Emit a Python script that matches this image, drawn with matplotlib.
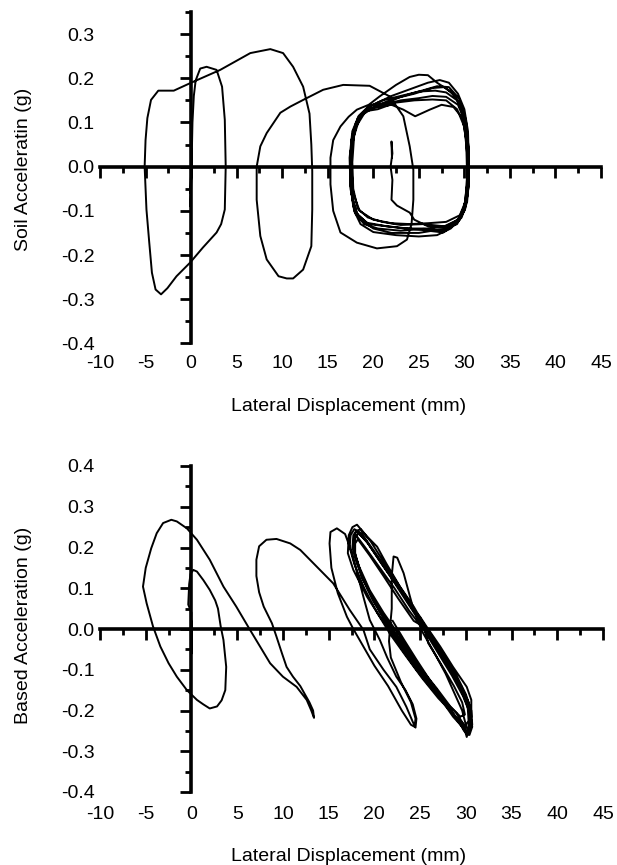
import matplotlib
matplotlib.use('Agg')
import matplotlib.pyplot as plt
from matplotlib.ticker import MultipleLocator

plt.rcParams['font.family'] = ['Liberation Sans', 'DejaVu Sans']

# ---------------- tick values / labels ----------------
x_ticks = [-10, -5, 0, 5, 10, 15, 20, 25, 30, 35, 40, 45]
x_tick_labels = ['-10', '-5', '0', '5', '10', '15', '20', '25', '30', '35', '40', '45']
top_y_ticks = [0.3, 0.2, 0.1, 0.0, -0.1, -0.2, -0.3, -0.4]
top_y_labels = ['0.3', '0.2', '0.1', '0.0', '-0.1', '-0.2', '-0.3', '-0.4']
bot_y_ticks = [0.4, 0.3, 0.2, 0.1, 0.0, -0.1, -0.2, -0.3, -0.4]
bot_y_labels = ['0.4', '0.3', '0.2', '0.1', '0.0', '-0.1', '-0.2', '-0.3', '-0.4']

x_label = 'Lateral Displacement (mm)'
top_ylabel = 'Soil Acceleratin (g)'
bot_ylabel = 'Based Acceleration (g)'

# ---------------- top panel: soil acceleration trace (mm, g) ----------------
top_start = [(0.0, -0.02), (0.1, 0.03), (-0.1, -0.06), (0.1, 0.02), (-0.1, -0.09), (0.0, -0.05),
             (0.1, 0.04), (0.0, -0.03), (0.1, 0.05)]
top_loop_d = [(0.15, 0.10), (0.3, 0.16), (0.5, 0.195), (1.0, 0.222), (1.7, 0.226), (2.8, 0.219),
              (3.4, 0.181), (3.7, 0.106), (3.8, 0.0), (3.7, -0.097), (3.3, -0.13), (2.8, -0.149),
              (1.3, -0.183), (-0.1, -0.217), (-1.6, -0.248), (-2.6, -0.275), (-3.3, -0.289)]
top_loop_a = [(-3.9, -0.278), (-4.3, -0.24), (-4.6, -0.17), (-4.9, -0.097), (-5.1, 0.0), (-5.0, 0.06),
              (-4.8, 0.11), (-4.4, 0.151), (-3.6, 0.172), (-1.9, 0.172), (-0.1, 0.189), (3.2, 0.219),
              (6.5, 0.257), (8.7, 0.266), (10.1, 0.257), (11.2, 0.226), (12.3, 0.181), (13.0, 0.12),
              (13.2, 0.05), (13.3, -0.01), (13.3, -0.097), (13.2, -0.18), (12.3, -0.233), (11.2, -0.253),
              (10.5, -0.253), (9.6, -0.248), (8.3, -0.21), (7.6, -0.157), (7.2, -0.075), (7.2, 0.0)]
top_loop_c = [(7.6, 0.046), (8.3, 0.076), (9.8, 0.122), (10.9, 0.136), (12.3, 0.151), (14.5, 0.174),
              (16.7, 0.185), (19.6, 0.183), (21.8, 0.159), (23.3, 0.114), (24.0, 0.046), (24.4, -0.007),
              (24.4, -0.075), (24.2, -0.13), (23.7, -0.165), (22.6, -0.18), (20.4, -0.185), (18.2, -0.172),
              (16.4, -0.149), (15.6, -0.1), (15.3, -0.04), (15.3, 0.02), (15.6, 0.06), (16.4, 0.091),
              (17.3, 0.113), (18.2, 0.129)]
top_c1 = [(19.5, 0.14), (20.7, 0.159), (22.5, 0.185), (24.0, 0.203), (25.0, 0.208), (26.0, 0.207),
          (27.0, 0.19), (28.5, 0.17), (29.6, 0.14), (30.2, 0.1), (30.4, 0.04), (30.4, -0.04),
          (30.1, -0.09), (29.5, -0.12), (28.0, -0.14), (25.0, -0.15), (22.0, -0.15), (20.0, -0.14),
          (18.6, -0.12), (17.8, -0.09), (17.5, -0.04), (17.5, 0.03), (17.7, 0.07), (18.3, 0.11), (19.2, 0.13)]
top_c2 = [(20.5, 0.145), (22.0, 0.16), (24.0, 0.175), (26.0, 0.19), (27.3, 0.196), (28.3, 0.19),
          (29.3, 0.165), (30.0, 0.13), (30.4, 0.08), (30.5, 0.0), (30.4, -0.06), (30.0, -0.1),
          (29.3, -0.125), (27.7, -0.149), (24.8, -0.142), (21.5, -0.135), (19.3, -0.127), (18.1, -0.104),
          (17.6, -0.06), (17.5, 0.0), (17.7, 0.06), (18.2, 0.1), (19.2, 0.13)]
top_c3 = [(20.5, 0.135), (22.0, 0.14), (23.3, 0.129), (24.6, 0.114), (26.2, 0.129), (27.5, 0.14),
          (28.8, 0.135), (29.8, 0.11), (30.2, 0.06), (30.3, -0.02), (30.1, -0.08), (29.5, -0.11),
          (28.0, -0.125), (26.0, -0.128), (24.0, -0.13), (22.0, -0.128), (20.0, -0.12), (18.5, -0.1),
          (17.8, -0.06), (17.6, 0.0), (17.7, 0.05), (18.1, 0.09), (19.0, 0.12)]
top_c4 = [(20.5, 0.14), (22.5, 0.155), (24.5, 0.165), (26.5, 0.178), (27.8, 0.18), (29.0, 0.16),
          (29.9, 0.12), (30.3, 0.06), (30.4, -0.01), (30.2, -0.07), (29.7, -0.11), (28.5, -0.135),
          (26.0, -0.14), (23.0, -0.145), (20.5, -0.14), (19.0, -0.13), (18.0, -0.105), (17.5, -0.05),
          (17.4, 0.02), (17.7, 0.08), (18.4, 0.115), (19.4, 0.135)]
top_c5 = [(21.0, 0.15), (23.0, 0.16), (25.0, 0.17), (26.8, 0.172), (28.0, 0.168), (29.2, 0.15),
          (30.0, 0.11), (30.4, 0.05), (30.5, -0.03), (30.3, -0.08), (29.7, -0.115), (28.5, -0.14),
          (27.0, -0.155), (25.0, -0.158), (22.5, -0.155), (20.0, -0.148), (18.6, -0.13), (17.9, -0.1),
          (17.5, -0.04), (17.5, 0.03), (17.8, 0.08), (18.6, 0.115), (19.8, 0.14)]
top_c6 = [(21.0, 0.14), (23.0, 0.15), (25.0, 0.155), (26.5, 0.16), (28.0, 0.158), (29.3, 0.14),
          (30.1, 0.1), (30.5, 0.04), (30.5, -0.04), (30.1, -0.095), (29.2, -0.13), (27.5, -0.145),
          (25.5, -0.14), (23.5, -0.14), (21.5, -0.135), (19.5, -0.13), (18.3, -0.11), (17.7, -0.07),
          (17.5, 0.0), (17.6, 0.06), (18.1, 0.1), (19.0, 0.125)]
top_c7 = [(20.5, 0.13), (22.5, 0.145), (24.5, 0.15), (26.5, 0.152), (28.0, 0.15), (29.2, 0.13),
          (30.0, 0.09), (30.3, 0.03), (30.3, -0.04), (30.0, -0.09), (29.3, -0.12), (27.8, -0.135),
          (25.5, -0.13), (23.0, -0.132), (21.0, -0.125), (19.4, -0.115), (18.3, -0.095), (17.8, -0.05),
          (17.7, 0.01), (17.9, 0.07), (18.5, 0.11), (19.5, 0.13)]
top_c8 = [(21.0, 0.14), (23.0, 0.158), (25.0, 0.17), (27.0, 0.182), (28.3, 0.18), (29.4, 0.155),
          (30.1, 0.11), (30.4, 0.05), (30.4, -0.03), (30.1, -0.085), (29.4, -0.12), (28.0, -0.135),
          (26.0, -0.135), (24.5, -0.12), (24.0, -0.104), (22.6, -0.088), (22.0, -0.075), (22.1, -0.03),
          (21.9, 0.0), (22.1, 0.03), (22.0, 0.057), (22.05, 0.02)]

# ---------------- bottom panel: base acceleration trace (mm, g) ----------------
bot_start = [(0.0, 0.0), (0.05, -0.05), (-0.05, 0.03), (0.05, -0.06), (0.0, 0.02), (-0.05, -0.04), (0.0, 0.04)]
bot_loop_1 = [(-0.35, 0.06), (-0.25, 0.11), (-0.1, 0.135), (0.2, 0.145), (0.6, 0.141), (1.3, 0.12),
              (2.0, 0.096), (2.6, 0.07), (2.9, 0.05), (3.2, 0.006), (3.5, -0.027), (3.8, -0.093),
              (3.7, -0.15), (3.3, -0.175), (2.8, -0.19), (2.0, -0.195), (1.3, -0.185), (0.6, -0.174),
              (-0.5, -0.15), (-1.6, -0.117), (-2.5, -0.084), (-3.4, -0.043), (-4.2, 0.006), (-4.9, 0.063),
              (-5.3, 0.104), (-5.0, 0.15), (-4.4, 0.198), (-3.8, 0.235), (-3.1, 0.26), (-2.2, 0.268)]
bot_diag_1 = [(-1.6, 0.264), (-0.5, 0.247), (0.6, 0.219), (2.0, 0.17), (3.5, 0.104), (4.9, 0.055),
              (6.4, -0.002), (7.5, -0.043), (8.6, -0.084), (10.0, -0.117), (11.5, -0.142), (12.6, -0.174),
              (13.1, -0.2), (13.4, -0.218)]
bot_loop_q = [(13.3, -0.2), (12.9, -0.18), (11.9, -0.14), (11.1, -0.117), (10.4, -0.093), (9.9, -0.06),
              (9.3, -0.019), (8.8, 0.014), (7.9, 0.055), (7.4, 0.09), (7.1, 0.13), (7.1, 0.17),
              (7.4, 0.203), (8.2, 0.219), (9.3, 0.221), (10.8, 0.21), (11.9, 0.194), (13.7, 0.153),
              (15.5, 0.112), (17.3, 0.047), (18.8, -0.002), (19.5, -0.05), (21.0, -0.1), (22.4, -0.142),
              (23.5, -0.191), (24.2, -0.228), (24.5, -0.242)]
bot_loop_n = [(24.6, -0.22), (24.2, -0.185), (23.4, -0.15), (22.4, -0.117), (21.4, -0.07), (20.6, -0.027),
              (19.5, 0.022), (18.8, 0.079), (18.2, 0.13), (17.5, 0.19), (16.8, 0.233), (15.9, 0.247),
              (15.2, 0.238), (15.1, 0.21), (15.3, 0.15), (16.0, 0.088), (17.0, 0.03), (17.7, 0.0),
              (18.8, -0.043), (20.0, -0.09), (21.5, -0.14), (23.0, -0.2), (24.0, -0.235), (24.4, -0.24),
              (24.5, -0.22), (24.0, -0.18), (22.9, -0.13), (21.8, -0.07), (21.6, -0.03), (21.7, 0.0),
              (21.9, 0.05), (21.9, 0.13), (22.1, 0.178), (22.5, 0.175), (23.2, 0.137), (23.9, 0.079),
              (24.3, 0.047), (25.0, 0.03)]
bot_c1 = [(25.7, 0.006), (27.2, -0.043), (28.6, -0.093), (30.1, -0.142), (30.6, -0.174), (30.6, -0.215),
          (30.4, -0.24), (30.1, -0.265), (29.7, -0.232), (29.0, -0.207), (27.9, -0.183), (26.4, -0.15),
          (24.6, -0.1), (22.8, -0.043), (21.7, -0.002), (20.6, 0.03), (19.2, 0.079), (17.7, 0.145),
          (17.1, 0.186), (17.2, 0.23), (17.6, 0.25), (18.1, 0.256), (19.2, 0.227), (20.3, 0.202),
          (21.3, 0.161), (22.8, 0.104), (24.3, 0.055)]
bot_c2 = [(26.5, -0.03), (28.2, -0.09), (29.5, -0.14), (30.3, -0.18), (30.5, -0.22), (30.2, -0.245),
          (29.6, -0.23), (28.5, -0.205), (27.0, -0.17), (25.2, -0.12), (23.4, -0.065), (21.8, -0.015),
          (20.3, 0.04), (18.9, 0.1), (17.8, 0.16), (17.3, 0.2), (17.4, 0.23), (17.8, 0.245),
          (18.6, 0.235), (20.0, 0.19), (21.5, 0.14), (23.0, 0.09), (24.8, 0.03)]
bot_c3 = [(26.8, -0.045), (28.3, -0.1), (29.5, -0.15), (30.2, -0.19), (30.3, -0.225), (29.9, -0.24),
          (29.0, -0.22), (27.6, -0.18), (25.8, -0.13), (24.0, -0.075), (22.3, -0.02), (20.6, 0.04),
          (19.2, 0.1), (18.1, 0.16), (17.6, 0.2), (17.7, 0.23), (18.0, 0.24), (19.0, 0.22),
          (20.5, 0.17), (22.0, 0.12), (23.6, 0.065), (25.2, 0.01)]
bot_c4 = [(27.0, -0.05), (28.5, -0.105), (29.7, -0.155), (30.4, -0.2), (30.5, -0.235), (30.2, -0.26),
          (29.8, -0.25), (29.2, -0.225), (28.0, -0.19), (26.3, -0.14), (24.5, -0.085), (22.8, -0.03),
          (21.2, 0.025), (19.7, 0.08), (18.5, 0.14), (17.8, 0.19), (17.9, 0.225), (18.3, 0.235),
          (19.3, 0.21), (20.8, 0.16), (22.4, 0.11), (24.0, 0.055), (25.5, 0.0)]
bot_c5 = [(25.9, -0.035), (27.4, -0.09), (28.7, -0.14), (29.6, -0.18), (29.9, -0.21), (29.4, -0.215),
          (28.3, -0.19), (26.8, -0.145), (25.0, -0.095), (23.2, -0.04), (21.5, 0.015), (19.9, 0.07),
          (18.6, 0.13), (17.9, 0.18), (17.9, 0.21), (18.2, 0.22), (19.5, 0.18), (21.0, 0.13),
          (22.6, 0.075), (24.3, 0.02)]
bot_c6 = [(25.8, 0.0), (27.4, -0.055), (28.9, -0.11), (30.0, -0.16), (30.6, -0.2), (30.7, -0.235),
          (30.3, -0.255), (29.5, -0.235), (28.3, -0.2), (26.8, -0.155), (25.0, -0.1), (23.3, -0.045),
          (21.6, 0.01), (20.0, 0.065), (18.7, 0.125), (17.9, 0.18), (17.8, 0.22), (18.0, 0.24),
          (18.5, 0.245), (19.6, 0.215), (21.0, 0.165), (22.6, 0.11), (24.2, 0.055)]
bot_c7 = [(25.2, -0.005), (26.6, -0.06), (27.8, -0.11), (28.8, -0.16), (29.6, -0.2), (30.0, -0.235),
          (29.6, -0.24), (28.6, -0.215), (27.2, -0.17), (25.7, -0.12), (24.3, -0.07), (22.7, -0.015),
          (21.0, 0.04), (19.5, 0.095), (18.3, 0.155), (17.7, 0.2), (18.0, 0.23), (19.0, 0.2),
          (20.6, 0.15), (22.2, 0.1), (23.8, 0.045)]
bot_c8 = [(25.5, -0.005), (27.0, -0.06), (28.5, -0.115), (29.7, -0.165), (30.5, -0.21), (30.7, -0.24),
          (30.4, -0.26), (29.9, -0.25), (29.1, -0.225), (27.8, -0.18), (26.2, -0.13), (24.6, -0.075),
          (23.2, -0.025), (22.0, 0.02)]

top_segments = [top_start, top_loop_d, top_loop_a, top_loop_c, top_c1, top_c2, top_c3, top_c4,
                top_c5, top_c6, top_c7, top_c8]
bot_segments = [bot_start, bot_loop_1, bot_diag_1, bot_loop_q, bot_loop_n, bot_c1, bot_c2, bot_c3,
                bot_c4, bot_c5, bot_c6, bot_c7, bot_c8]

W, H = 617, 865
fig = plt.figure(figsize=(W / 100, H / 100), dpi=100)
fig.patch.set_facecolor('white')

FS = 14


def panel(rect, ylim, yticks, ylabels, segments, xpad):
    # label layer: tick labels at the frame edges
    lab = fig.add_axes(rect)
    lab.set_xlim(-10, 45)
    lab.set_ylim(*ylim)
    for s in lab.spines.values():
        s.set_visible(False)
    lab.patch.set_visible(False)
    lab.set_xticks(x_ticks, x_tick_labels)
    lab.set_yticks(yticks, ylabels)
    lab.tick_params(axis='x', length=0, labelsize=FS, pad=xpad)
    lab.tick_params(axis='y', length=0, labelsize=FS, pad=4)

    ax = fig.add_axes(rect)
    ax.patch.set_visible(False)
    ax.set_xlim(-10, 45)
    ax.set_ylim(*ylim)
    ax.spines['top'].set_visible(False)
    ax.spines['right'].set_visible(False)
    ax.spines['left'].set_position(('data', 0))
    ax.spines['bottom'].set_position(('data', 0))
    for k in ('left', 'bottom'):
        ax.spines[k].set_linewidth(2.6)
    ax.xaxis.set_major_locator(MultipleLocator(5))
    ax.xaxis.set_minor_locator(MultipleLocator(2.5))
    ax.yaxis.set_major_locator(MultipleLocator(0.1))
    ax.yaxis.set_minor_locator(MultipleLocator(0.05))
    ax.tick_params(which='major', direction='out', length=8, width=2.0,
                   labelbottom=False, labelleft=False)
    ax.tick_params(which='minor', direction='out', length=4.5, width=2.0)

    xs, ys = [], []
    for seg in segments:
        for (x, y) in seg:
            xs.append(x)
            ys.append(y)
    ax.plot(xs, ys, color='black', lw=1.4, solid_joinstyle='round', zorder=3)
    return ax


# top panel: x -10..45 -> px 100..601 ; y -0.4..0.35 -> px 343.4..12
panel([100 / W, 1 - 343.4 / H, 501 / W, (343.4 - 12) / H], (-0.4, 0.35),
      top_y_ticks, top_y_labels, top_segments, xpad=8)
# bottom panel: x -10..45 -> px 100..603 ; y -0.4..0.4 -> px 792..466
panel([100 / W, 1 - 792 / H, 503 / W, (792 - 466) / H], (-0.4, 0.4),
      bot_y_ticks, bot_y_labels, bot_segments, xpad=10)

fig.text(24 / W, 1 - 169 / H, top_ylabel, rotation=90, ha='center', va='center', fontsize=FS)
fig.text(24 / W, 1 - 625 / H, bot_ylabel, rotation=90, ha='center', va='center', fontsize=FS)
fig.text(349 / W, 1 - 411.5 / H, x_label, ha='center', va='baseline', fontsize=FS)
fig.text(349 / W, 1 - 861 / H, x_label, ha='center', va='baseline', fontsize=FS)

fig.savefig('out.png', dpi=100, facecolor='white')
